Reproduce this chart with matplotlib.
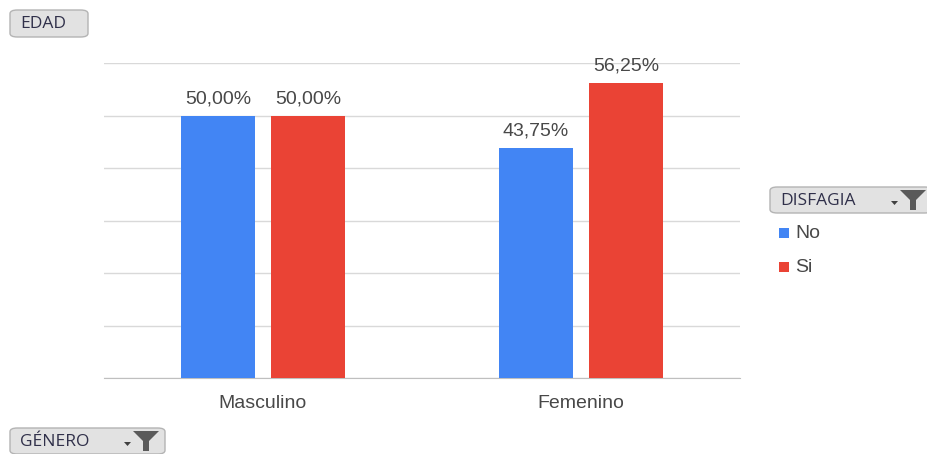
import matplotlib
matplotlib.use("Agg")
import matplotlib.pyplot as plt
import numpy as np
from matplotlib.patches import FancyBboxPatch, Rectangle, Polygon

plt.rcParams["font.family"] = ["Liberation Sans", "DejaVu Sans"]

# ── data ─────────────────────────────────────────────────────────────
categories = ["Masculino", "Femenino"]
series_names = ["No", "Si"]
values_no = [50.00, 43.75]
values_si = [50.00, 56.25]
colors = ["#4285F4", "#EA4335"]

W, H = 927, 454
fig = plt.figure(figsize=(W / 100, H / 100), dpi=100)

# plot area in pixels: x 104..740, y 63..378
ax = fig.add_axes([104 / W, 1 - 378 / H, 636 / W, 315 / H])
x = np.arange(len(categories))
bw = 0.23
off = 0.1415

for vals, sign, col in zip([values_no, values_si], [-1, 1], colors):
    bars = ax.bar(x + sign * off, vals, width=bw, color=col, zorder=3)
    for b, v in zip(bars, vals):
        ax.annotate(f"{v:.2f}%".replace(".", ","),
                    (b.get_x() + b.get_width() / 2, v),
                    xytext=(0, 6), textcoords="offset points",
                    ha="center", va="bottom", fontsize=14, color="#484848")

ax.set_xlim(-0.5, 1.5)
ax.set_ylim(0, 60)
ax.set_yticks(np.arange(0, 61, 10))
ax.yaxis.grid(True, color="#d9d9d9", linewidth=1, zorder=0)
ax.tick_params(left=False, labelleft=False, bottom=False)
ax.set_xticks(x)
ax.set_xticklabels(categories, fontsize=14, color="#484848")
ax.tick_params(axis="x", pad=9)
for s in ["top", "right", "left"]:
    ax.spines[s].set_visible(False)
ax.spines["bottom"].set_color("#bfbfbf")


def button(x0, y0, w, h, label, funnel=False):
    # pixel coords measured from top-left
    box = FancyBboxPatch((x0 / W, 1 - (y0 + h) / H), w / W, h / H,
                         boxstyle="round,pad=0,rounding_size=0.008",
                         transform=fig.transFigure, facecolor="#e2e2e2",
                         edgecolor="#b4b4b4", linewidth=1)
    fig.patches.append(box)
    fig.text((x0 + 10) / W, 1 - (y0 + h / 2 + 1) / H, label,
             fontsize=12.5, color="#30304a", ha="left", va="center",
             family=["Open Sans", "DejaVu Sans"])
    if funnel:
        fx = x0 + w - 19
        fy = y0 + 3
        tri = Polygon([((fx - 13) / W, 1 - fy / H), ((fx + 13) / W, 1 - fy / H),
                       ((fx + 3) / W, 1 - (fy + 10) / H), ((fx + 3) / W, 1 - (fy + 20) / H),
                       ((fx - 3) / W, 1 - (fy + 20) / H), ((fx - 3) / W, 1 - (fy + 10) / H)],
                      closed=True, transform=fig.transFigure, facecolor="#5a5a5a",
                      edgecolor="none")
        fig.patches.append(tri)
        arr = Polygon([((fx - 22) / W, 1 - (fy + 11) / H), ((fx - 15) / W, 1 - (fy + 11) / H),
                       ((fx - 18.5) / W, 1 - (fy + 15) / H)],
                      closed=True, transform=fig.transFigure, facecolor="#404040",
                      edgecolor="none")
        fig.patches.append(arr)


button(10, 10, 78, 27, "EDAD")
button(10, 428, 155, 26, "GÉNERO", funnel=True)
button(770, 187, 162, 26, "DISFAGIA", funnel=True)

# legend
for i, (name, col) in enumerate(zip(series_names, colors)):
    yc = 233 + i * 34
    fig.patches.append(Rectangle((779 / W, 1 - (yc + 5) / H), 10 / W, 10 / H,
                                 transform=fig.transFigure, facecolor=col,
                                 edgecolor="none"))
    fig.text(795 / W, 1 - yc / H, name, fontsize=14, color="#484848",
             ha="left", va="center")

fig.savefig("out.png", dpi=100)
